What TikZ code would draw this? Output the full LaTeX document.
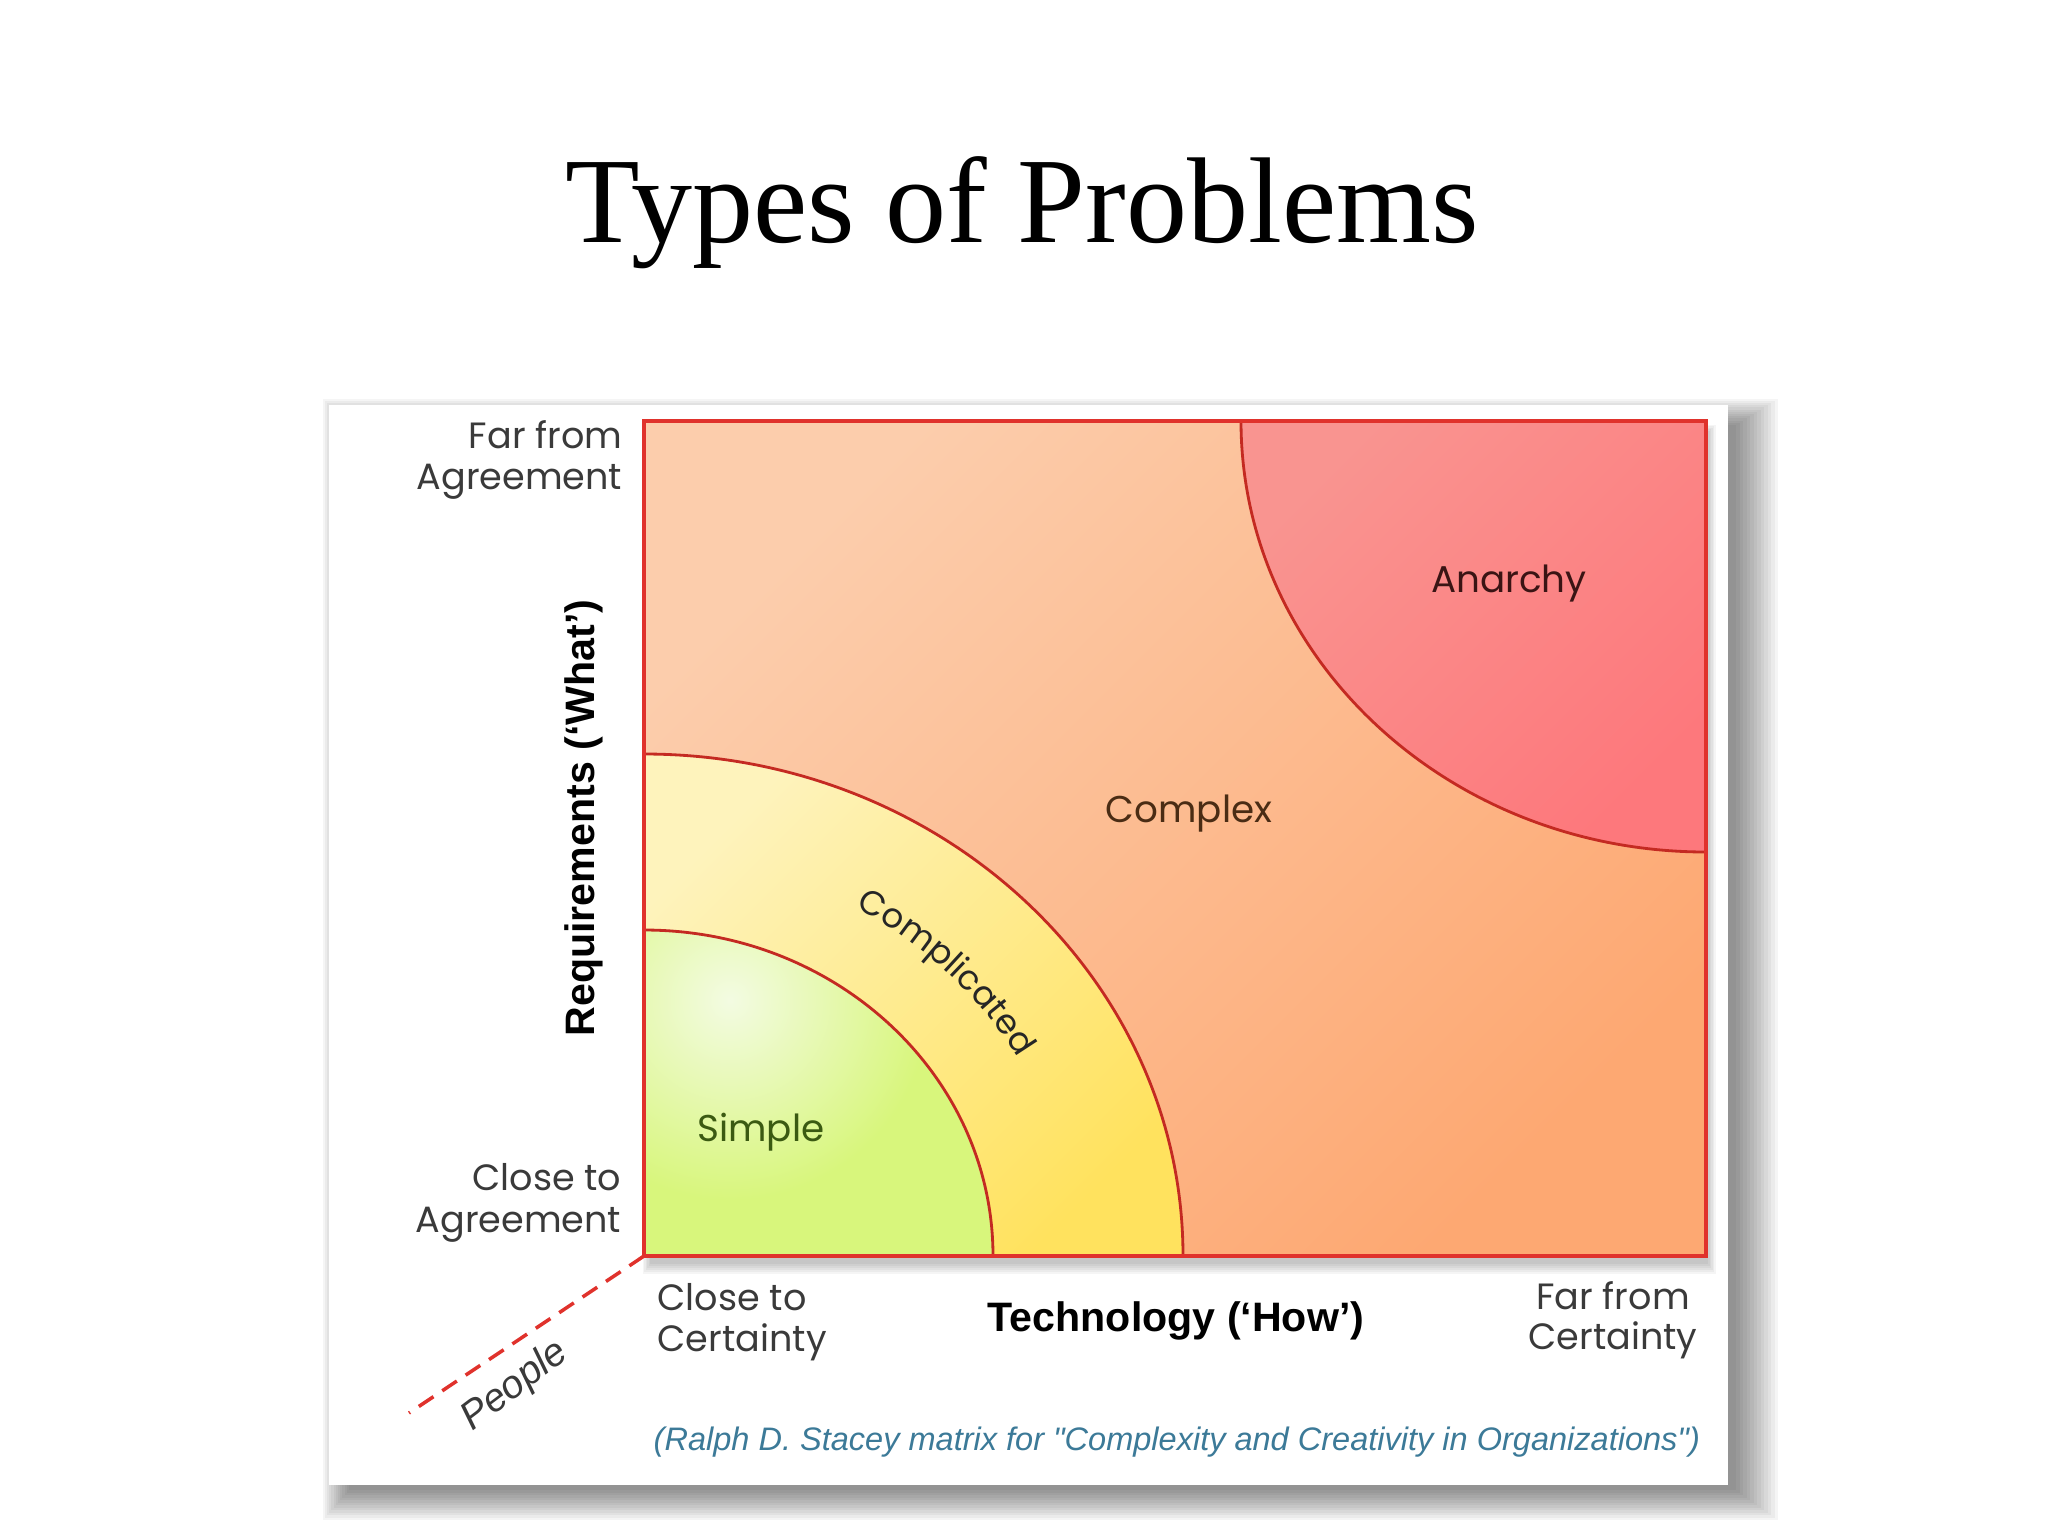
\documentclass[tikz,border=0pt]{standalone}
\usepackage{fontspec}
\setmainfont{Liberation Serif}
\newfontfamily\geo{Poppins}
\newfontfamily\arial{Liberation Sans}
\usetikzlibrary{decorations.text}
\definecolor{cxA}{HTML}{FCCDAC}
\definecolor{cxB}{HTML}{FDA872}
\definecolor{anA}{HTML}{F99490}
\definecolor{anB}{HTML}{FD787C}
\definecolor{coA}{HTML}{FEF3BC}
\definecolor{coB}{HTML}{FFE25E}
\definecolor{siA}{HTML}{F3FBE2}
\definecolor{siB}{HTML}{D8F67C}
\definecolor{bord}{HTML}{E0322C}
\definecolor{arcc}{HTML}{C42A22}
\definecolor{labgray}{HTML}{3A3A3A}
\definecolor{capblue}{HTML}{3C7A98}
\definecolor{simtxt}{HTML}{3B5A12}
\definecolor{cxtxt}{HTML}{4A2C14}
\definecolor{antxt}{HTML}{3A1414}
\begin{document}
\begin{tikzpicture}[x=0.01cm,y=0.01cm,
  lab/.style={font=\geo\fontsize{10.4}{12}\selectfont, text=labgray, inner sep=0},
  axislab/.style={font=\arial\bfseries\fontsize{11.7}{14}\selectfont, text=black, inner sep=0},
  reg/.style={font=\geo\fontsize{10.6}{12}\selectfont, inner sep=0},
  arcline/.style={draw=arcc, line width=0.8pt},
  border/.style={draw=bord, line width=1.3pt},
  peopleline/.style={draw=bord, line width=1pt, dash pattern=on 5pt off 3pt}]
\useasboundingbox (0,0) rectangle (2048,-1536);
\fill[white] (0,0) rectangle (2048,-1536);

% panel shadow
\foreach \k in {0,...,12}
  \fill[black, opacity=0.04] ({349-2.2*\k},{-425+2.2*\k}) rectangle ({1736+3.5*\k},{-1490-2.5*\k});
% panel
\fill[white] (329,-405) rectangle (1728,-1485);

% square shadow
\foreach \k in {0,...,5}
  \fill[black, opacity=0.04] ({650-1.5*\k},{-432+1.5*\k}) rectangle ({1708+1.5*\k},{-1264-2*\k});

\coordinate (O) at (644,-1256);
\coordinate (TR) at (1706,-421);
\coordinate (peopleEnd) at (409,-1413);

% complex background
\shade[top color=cxA, bottom color=cxB, shading angle=45] (O) rectangle (TR);

% anarchy
\shade[top color=anA, bottom color=anB, shading angle=45]
  (1241,-421) arc[start angle=180, end angle=270, x radius=465, y radius=431] -- (TR) -- cycle;
\draw[arcline] (1241,-421) arc[start angle=180, end angle=270, x radius=465, y radius=431];

% complicated
\shade[top color=coA, bottom color=coB, shading angle=45]
  (1183,-1256) arc[start angle=0, end angle=90, x radius=539, y radius=502] -- (O) -- cycle;
\draw[arcline] (1183,-1256) arc[start angle=0, end angle=90, x radius=539, y radius=502];

% simple
\begin{scope}
  \clip (993,-1256) arc[start angle=0, end angle=90, x radius=349, y radius=326] -- (O) -- cycle;
  \fill[siB] (O) rectangle (1000,-900);
  \shade[inner color=siA, outer color=siB] (730,-1000) circle[radius=200];
\end{scope}
\draw[arcline] (993,-1256) arc[start angle=0, end angle=90, x radius=349, y radius=326];

% border
\draw[border] (O) rectangle (TR);

% people axis
\draw[peopleline] (O) -- (peopleEnd);

% title
\node[anchor=base, inner sep=0, font=\fontsize{34.7}{40}\selectfont] (title) at (1022,-242) {Types of Problems};

% vertical axis labels
\node[lab, anchor=base east] (farAgree1) at (623,-448) {Far from};
\node[lab, anchor=base east] (farAgree2) at (623,-489) {Agreement};
\node[lab, anchor=base east] (closeAgree1) at (622,-1190) {Close to};
\node[lab, anchor=base east] (closeAgree2) at (622,-1232) {Agreement};
\node[axislab, rotate=90] (req) at (584,-818) {Requirements (‘What’)};

% horizontal axis labels
\node[lab, anchor=base west] (closeCert1) at (657,-1310) {Close to};
\node[lab, anchor=base west] (closeCert2) at (657,-1351) {Certainty};
\node[lab, anchor=base] (farCert1) at (1613,-1309) {Far from};
\node[lab, anchor=base] (farCert2) at (1613,-1349) {Certainty};
\node[axislab, anchor=base] (tech) at (1176,-1331) {Technology (‘How’)};

% people
\node[font=\arial\itshape\fontsize{11.2}{13}\selectfont, text=labgray, rotate=37, inner sep=0] (people) at (515,-1386) {People};

% regions
\node[reg, text=antxt] (anarchy) at (1509,-584) {Anarchy};
\node[reg, text=cxtxt] (complex) at (1189,-814) {Complex};
\node[reg, text=simtxt] (simple) at (761,-1132) {Simple};
\path[decorate, decoration={text along path, text color=black!85,
    text={|\geo\fontsize{9.7}{12}\selectfont|Complicated}, text align=center}]
  (O) ++(66:430 and 400) arc[start angle=66, end angle=24, x radius=430, y radius=400];

% caption
\node[anchor=base west, inner sep=0, font=\arial\itshape\fontsize{9.25}{11}\selectfont, text=capblue] (caption) at (653,-1450)
  {(Ralph D. Stacey matrix for "Complexity and Creativity in Organizations")};
\end{tikzpicture}
\end{document}
